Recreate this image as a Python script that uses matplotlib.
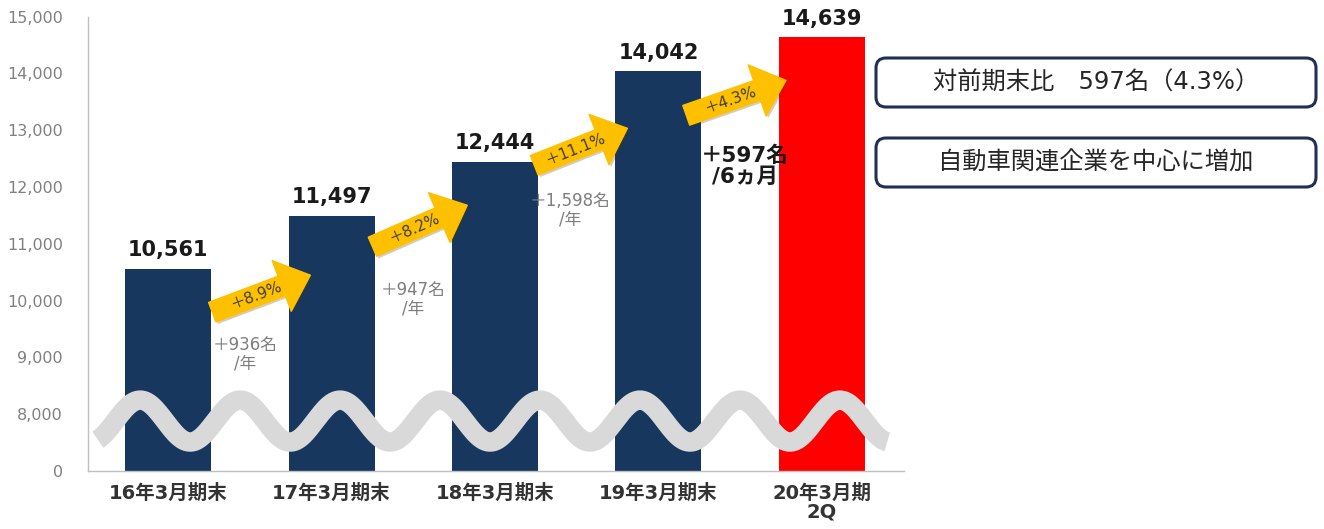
import numpy as np
import matplotlib.pyplot as plt
from matplotlib.patches import FancyBboxPatch
import matplotlib.patheffects as pe

plt.rcParams['font.family'] = ['DejaVu Sans', 'Noto Sans CJK JP']

periods = ['16年3月期末', '17年3月期末', '18年3月期末', '19年3月期末', '20年3月期\n2Q']
members = [10561, 11497, 12444, 14042, 14639]
growth = ['＋8.9%', '＋8.2%', '＋11.1%', '＋4.3%']
increase = ['＋936名\n/年', '＋947名\n/年', '＋1,598名\n/年']
last_increase = '＋597名\n/6ヵ月'
notes = ['対前期末比　597名（4.3%）', '自動車関連企業を中心に増加']
yticks = [7000, 8000, 9000, 10000, 11000, 12000, 13000, 14000, 15000]
ytick_labels = ['0', '8,000', '9,000', '10,000', '11,000', '12,000', '13,000', '14,000', '15,000']

navy = '#17375E'
red = '#FF0000'
gold = '#FFC000'

fig = plt.figure(figsize=(13.24, 5.29), dpi=100)
ax = fig.add_axes([0.0665, 0.1096, 0.616, 0.8592])

x = np.arange(len(members))
colors = [navy] * (len(members) - 1) + [red]
ax.bar(x, members, width=0.526, color=colors, zorder=2)

ax.set_xlim(-0.49, 4.50)
ax.set_ylim(7000, 15000)
ax.set_yticks(yticks)
ax.set_yticklabels(ytick_labels)
ax.set_xticks(x)
ax.set_xticklabels(periods, fontweight='bold', fontsize=14, color='#333333', linespacing=1.0)
ax.tick_params(axis='x', length=0, pad=9)
ax.tick_params(axis='y', length=0, pad=18, labelsize=11.5, labelcolor='#808080')
for s in ['top', 'right']:
    ax.spines[s].set_visible(False)
for s in ['left', 'bottom']:
    ax.spines[s].set_color('#BFBFBF')
    ax.spines[s].set_linewidth(1.0)

# value labels
for xi, v in zip(x, members):
    ax.annotate(f'{v:,}', (xi, v), xytext=(0, 6), textcoords='offset points',
                ha='center', va='bottom', fontsize=15, fontweight='bold', color='#1a1a1a', zorder=5)

# axis-break wave (decoration)
wx = np.linspace(-0.43, 4.40, 400)
wy = 7879 + 369 * np.cos(2 * np.pi * (wx + 0.171) / 0.6116)
ax.plot(wx, wy, color='#D9D9D9', lw=14, solid_capstyle='butt', zorder=3)

# growth arrows
tail_dx = [0.27, 0.25, 0.24, 0.17]
tail_dy = [-765, -549, -62, -781]
tip_dx = [0.87, 0.83, 0.81, 0.78]
tip_dy = [-1050, -766, -1010, -763]
for i, g in enumerate(growth):
    tail = (i + tail_dx[i], members[i] + tail_dy[i])
    tip = (i + tip_dx[i], members[i + 1] + tip_dy[i])
    ax.annotate('', xy=tip, xytext=tail, zorder=4,
                arrowprops=dict(arrowstyle='simple,head_length=2.2,head_width=3.9,tail_width=1.5',
                                mutation_scale=10, color=gold, shrinkA=0, shrinkB=0,
                                path_effects=[pe.SimplePatchShadow(offset=(1.5, -1.5), alpha=0.25), pe.Normal()]))
    p0 = ax.transData.transform(tail)
    p1 = ax.transData.transform(tip)
    ang = np.degrees(np.arctan2(p1[1] - p0[1], p1[0] - p0[0]))
    mx = tail[0] + 0.45 * (tip[0] - tail[0])
    my = tail[1] + 0.45 * (tip[1] - tail[1])
    ax.text(mx, my, g, rotation=ang, rotation_mode='anchor', ha='center', va='center',
            fontsize=11, color='#404040', zorder=6)

# yearly increase labels
inc_x = [0.47, 1.50, 2.46]
inc_y = [9058, 10025, 11590]
for lx, ly, t in zip(inc_x, inc_y, increase):
    ax.text(lx, ly, t, ha='center', va='center', fontsize=12, color='#7F7F7F',
            linespacing=1.05, zorder=6)
ax.text(3.53, 12364, last_increase, ha='center', va='center', fontsize=15.5,
        fontweight='bold', color='#1a1a1a', linespacing=1.0, zorder=6)

# note boxes on the right
box_y = [4.22, 3.42]
for by, t in zip(box_y, notes):
    box = FancyBboxPatch((8.76, by), 4.40, 0.49, boxstyle='round,pad=0,rounding_size=0.1',
                         transform=fig.dpi_scale_trans, facecolor='white',
                         edgecolor='#1F3050', lw=2.2)
    fig.patches.append(box)
    fig.text(10.96, by + 0.245, t, transform=fig.dpi_scale_trans, ha='center', va='center',
             fontsize=17.5, color='#262626')

fig.savefig('out.png', dpi=100)
